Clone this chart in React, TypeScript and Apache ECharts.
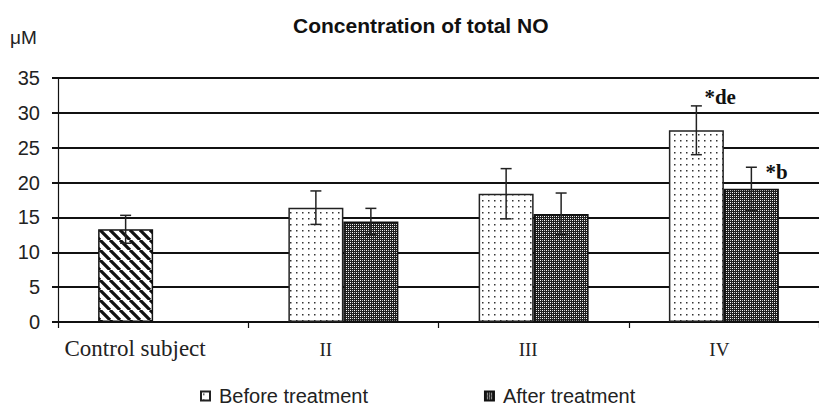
import React, { useEffect, useRef } from 'react';
import * as echarts from 'echarts';

const categories = ['Control subject', 'II', 'III', 'IV'];
const beforeValues = [13.3, 16.4, 18.4, 27.5];
const afterValues: (number | null)[] = [null, 14.4, 15.5, 19.1];
const beforeErrors = [2.0, 2.4, 3.6, 3.5];
const afterErrors: (number | null)[] = [null, 1.9, 3.0, 3.1];
const beforeMarks = ['', '', '', '*de'];
const afterMarks = ['', '', '', '*b'];
const yMin = 0;
const yMax = 35;
const yInterval = 5;

const SANS = '"Liberation Sans", Arial, sans-serif';
const SERIF = '"Liberation Serif", "Times New Roman", serif';
const BAR_W = 55;

function makeCanvas(w: number, h: number, draw: (ctx: CanvasRenderingContext2D) => void) {
  const c = document.createElement('canvas');
  c.width = w;
  c.height = h;
  const ctx = c.getContext('2d') as CanvasRenderingContext2D;
  draw(ctx);
  return c;
}

function stripes() {
  return makeCanvas(10, 10, (ctx) => {
    ctx.fillStyle = '#fff';
    ctx.fillRect(0, 0, 10, 10);
    ctx.strokeStyle = '#111';
    ctx.lineWidth = 3.2;
    ctx.beginPath();
    for (const k of [-10, 0, 10]) {
      ctx.moveTo(k, 0);
      ctx.lineTo(k + 10, 10);
    }
    ctx.stroke();
  });
}

function dots() {
  return makeCanvas(6, 6, (ctx) => {
    ctx.fillStyle = '#fff';
    ctx.fillRect(0, 0, 6, 6);
    ctx.fillStyle = '#333';
    ctx.fillRect(2, 2, 1.5, 1.5);
  });
}

function checker() {
  return makeCanvas(4, 4, (ctx) => {
    ctx.fillStyle = '#1e1e1e';
    ctx.fillRect(0, 0, 4, 4);
    ctx.fillStyle = '#fff';
    ctx.fillRect(0, 0, 1, 1);
    ctx.fillRect(2, 2, 1, 1);
    ctx.fillStyle = '#c4c4c4';
    ctx.fillRect(2, 0, 1, 1);
    ctx.fillRect(0, 2, 1, 1);
  });
}

function errorSeries(values: (number | null)[], errors: (number | null)[], marks: string[], side: number, markDx: number, markDy: number) {
  const data = values.map((v, i) =>
    v == null || errors[i] == null ? [i, '-', '-'] : [i, v - (errors[i] as number), v + (errors[i] as number)]
  );
  return {
    type: 'custom',
    z: 10,
    encode: { x: 0, y: [1, 2] },
    data,
    renderItem: (params: any, api: any) => {
      const lo = api.value(1);
      const hi = api.value(2);
      if (isNaN(lo) || isNaN(hi)) return null;
      const idx = api.value(0);
      const x = api.coord([idx, 0])[0] + side * BAR_W / 2;
      const yTop = api.coord([idx, hi])[1];
      const yBot = api.coord([idx, lo])[1];
      const st = { stroke: '#222', lineWidth: 1.5 };
      const children: any[] = [
        { type: 'line', shape: { x1: x, y1: yTop, x2: x, y2: yBot }, style: st },
        { type: 'line', shape: { x1: x - 5.5, y1: yTop, x2: x + 5.5, y2: yTop }, style: st },
        { type: 'line', shape: { x1: x - 5.5, y1: yBot, x2: x + 5.5, y2: yBot }, style: st },
      ];
      const m = marks[params.dataIndex];
      if (m) {
        children.push({
          type: 'text',
          x: x + markDx,
          y: yTop + markDy,
          style: {
            text: m,
            fontFamily: SERIF,
            fontWeight: 'bold',
            fontSize: 21,
            fill: '#111',
            align: 'left',
            verticalAlign: 'middle',
          },
        });
      }
      return { type: 'group', children };
    },
  };
}

export default function App() {
  const ref = useRef<HTMLDivElement>(null);
  useEffect(() => {
    document.body.style.margin = '0';
    if (!ref.current) return;
    const chart = echarts.init(ref.current, null, { renderer: 'svg' });
    const stripeP = { image: stripes(), repeat: 'repeat' };
    const dotP = { image: dots(), repeat: 'repeat' };
    const checkP = { image: checker(), repeat: 'repeat' };
    const labelPad = [36, 35, 11, 9];
    const labelSize = [23, 19, 19, 19];
    const rich: any = {};
    labelPad.forEach((p, i) => {
      rich['l' + i] = {
        fontFamily: SERIF,
        fontSize: labelSize[i],
        color: '#222',
        padding: [i === 0 ? 0 : 3, p, 0, 0],
      };
    });
    chart.setOption({
      animation: false,
      title: {
        text: 'Concentration of total NO',
        left: 293,
        top: 15,
        padding: 0,
        textStyle: { fontFamily: SANS, fontSize: 21, fontWeight: 'bold', color: '#111' },
      },
      graphic: [
        {
          type: 'text',
          left: 10,
          top: 28,
          style: { text: 'μM', fontFamily: SANS, fontSize: 19, fill: '#222' },
        },
      ],
      legend: {
        data: ['Before treatment', 'After treatment'],
        left: 200,
        top: 386,
        padding: 0,
        icon: 'rect',
        itemWidth: 9,
        itemHeight: 9,
        itemGap: 116,
        textStyle: { fontFamily: SANS, fontSize: 20, lineHeight: 18, color: '#222', padding: [0, 0, 0, 4] },
      },
      grid: { left: 58, right: -11, top: 78, bottom: 85, containLabel: false },
      xAxis: {
        type: 'category',
        data: categories,
        axisLine: { lineStyle: { color: '#111', width: 1.5 } },
        axisTick: { show: true, length: 6, lineStyle: { color: '#111', width: 1.2 } },
        axisLabel: {
          interval: 0,
          margin: 15,
          fontFamily: SERIF,
          fontSize: 23,
          color: '#222',
          formatter: (v: string, i: number) => `{l${i}|${v}}`,
          rich,
        },
      },
      yAxis: {
        type: 'value',
        min: yMin,
        max: yMax,
        interval: yInterval,
        axisLine: { show: true, lineStyle: { color: '#111', width: 1.2 } },
        axisTick: { show: true, length: 6, lineStyle: { color: '#111', width: 2 } },
        axisLabel: { margin: 18, fontFamily: SANS, fontSize: 20, color: '#222' },
        splitLine: { show: true, lineStyle: { color: '#111', width: 2 } },
      },
      series: [
        {
          name: 'Before treatment',
          type: 'bar',
          barWidth: BAR_W,
          barGap: '0%',
          itemStyle: { color: dotP, borderColor: '#222', borderWidth: 1.5 },
          data: beforeValues.map((v, i) =>
            i === 0 ? { value: v, itemStyle: { color: stripeP, borderColor: '#111', borderWidth: 1.5 } } : v
          ),
        },
        {
          name: 'After treatment',
          type: 'bar',
          barWidth: BAR_W,
          barGap: '0%',
          itemStyle: { color: checkP, borderColor: '#111', borderWidth: 1.5 },
          data: afterValues.map((v) => (v == null ? '-' : v)),
        },
        errorSeries(beforeValues, beforeErrors, beforeMarks, -1, 8, -9),
        errorSeries(afterValues, afterErrors, afterMarks, 1, 14, 5),
      ],
    });
    return () => chart.dispose();
  }, []);
  return <div ref={ref} style={{ width: 819, height: 407 }} />;
}
